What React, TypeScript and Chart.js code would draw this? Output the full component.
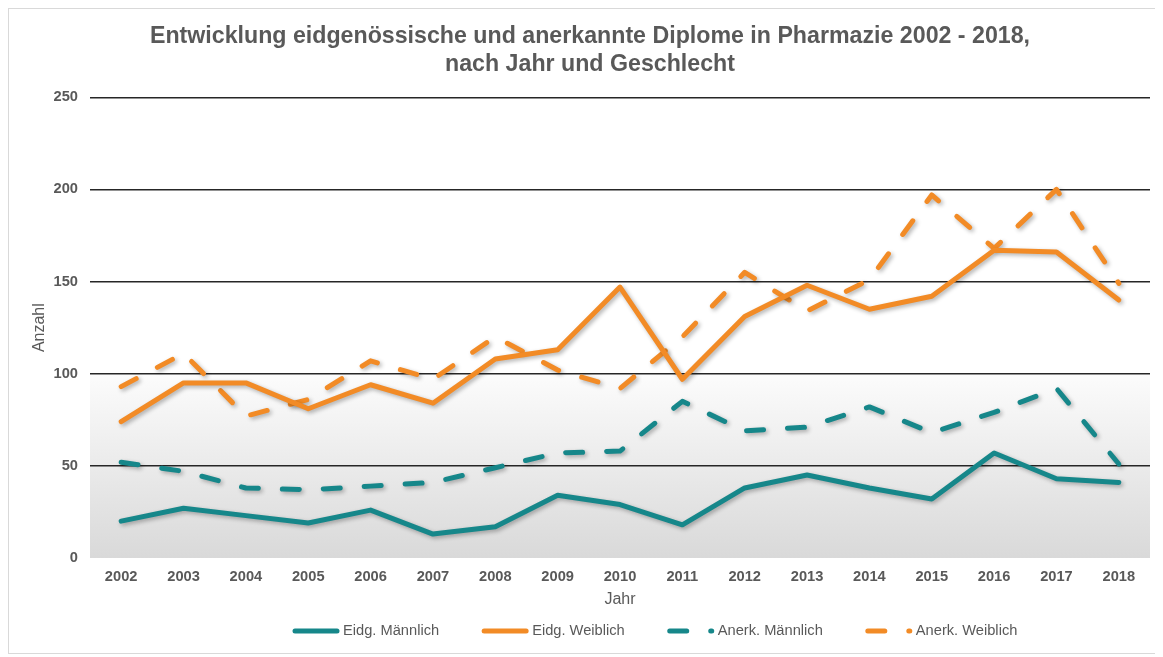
import React, { useEffect, useRef } from 'react';
import { Chart, registerables } from 'chart.js';

Chart.register(...registerables);

const titleLines = [
  'Entwicklung eidgenössische und anerkannte Diplome in Pharmazie 2002 - 2018,',
  'nach Jahr und Geschlecht',
];
const years = ['2002', '2003', '2004', '2005', '2006', '2007', '2008', '2009', '2010', '2011', '2012', '2013', '2014', '2015', '2016', '2017', '2018'];
const eidgMaennlich = [20, 27, 23, 19, 26, 13, 17, 34, 29, 18, 38, 45, 38, 32, 57, 43, 41];
const eidgWeiblich = [74, 95, 95, 81, 94, 84, 108, 113, 147, 97, 131, 148, 135, 142, 167, 166, 140];
const anerkMaennlich = [52, 47, 38, 37, 39, 41, 49, 57, 58, 85, 69, 71, 82, 68, 79, 92, 51];
const anerkWeiblich = [93, 111, 77, 86, 107, 97, 120, 102, 92, 120, 155, 134, 151, 197, 168, 200, 149];
const yTicks = [0, 50, 100, 150, 200, 250];

const TEAL = '#16878a';
const ORANGE = '#f28b26';
const GREY = '#595959';
const FONT = '"Liberation Sans", Arial, sans-serif';
const DASH = [17, 24];

export default function App() {
  const ref = useRef<HTMLCanvasElement>(null);

  useEffect(() => {
    if (!ref.current) return;
    Chart.defaults.font.family = FONT;

    const bgPlugin = {
      id: 'bgGradient',
      beforeDraw(chart: any) {
        const { ctx, chartArea, scales } = chart;
        const yTop = scales.y.getPixelForValue(100);
        const yBot = scales.y.getPixelForValue(0);
        const g = ctx.createLinearGradient(0, yTop, 0, yBot);
        g.addColorStop(0, '#fcfcfc');
        g.addColorStop(1, '#d9d9d9');
        ctx.save();
        ctx.fillStyle = g;
        ctx.fillRect(chartArea.left, yTop, chartArea.right - chartArea.left, yBot - yTop);
        ctx.restore();
      },
    };

    const shadowPlugin = {
      id: 'lineShadow',
      beforeDatasetDraw(chart: any) {
        const c = chart.ctx;
        c.save();
        c.shadowColor = 'rgba(0,0,0,0.3)';
        c.shadowBlur = 4;
        c.shadowOffsetX = 2;
        c.shadowOffsetY = 2;
      },
      afterDatasetDraw(chart: any) {
        chart.ctx.restore();
      },
    };

    const legendPlugin = {
      id: 'customLegend',
      afterDraw(chart: any) {
        const ctx = chart.ctx;
        ctx.save();
        ctx.font = `14.67px ${FONT}`;
        ctx.textBaseline = 'middle';
        let x = 286;
        const y = 622;
        chart.data.datasets.forEach((ds: any) => {
          ctx.strokeStyle = ds.borderColor;
          ctx.lineWidth = ds.borderWidth;
          ctx.lineCap = 'round';
          ctx.setLineDash(ds.borderDash || []);
          ctx.beginPath();
          ctx.moveTo(x, y);
          ctx.lineTo(x + 42, y);
          ctx.stroke();
          ctx.setLineDash([]);
          ctx.fillStyle = GREY;
          ctx.fillText(ds.label, x + 48, y);
          x += 48 + ctx.measureText(ds.label).width + 45;
        });
        ctx.restore();
      },
    };

    const mk = (label: string, data: number[], color: string, dashed: boolean) => ({
      label,
      data,
      borderColor: color,
      backgroundColor: color,
      borderWidth: 5,
      borderDash: dashed ? DASH : [],
      borderCapStyle: 'round' as const,
      borderJoinStyle: 'round' as const,
      pointRadius: 0,
      pointHoverRadius: 0,
      tension: 0,
      fill: false,
    });

    const chart = new Chart(ref.current, {
      type: 'line',
      data: {
        labels: years,
        datasets: [
          mk('Eidg. Männlich', eidgMaennlich, TEAL, false),
          mk('Eidg. Weiblich', eidgWeiblich, ORANGE, false),
          mk('Anerk. Männlich', anerkMaennlich, TEAL, true),
          mk('Anerk. Weiblich', anerkWeiblich, ORANGE, true),
        ],
      },
      options: {
        animation: false,
        responsive: false,
        devicePixelRatio: 1,
        layout: { padding: { left: 21, right: 9, top: 0, bottom: 44 } },
        plugins: {
          legend: { display: false },
          tooltip: { enabled: false },
          title: {
            display: true,
            text: titleLines,
            color: GREY,
            font: { size: 23.2, weight: 'bold', family: FONT, lineHeight: 1.17 },
            padding: { top: 14.5, bottom: 19.5 },
          },
        },
        scales: {
          x: {
            type: 'category',
            offset: true,
            grid: { display: false },
            border: { display: false },
            afterFit(scale: any) {
              scale.height = 51;
            },
            ticks: {
              color: GREY,
              font: { size: 14.67, weight: 'bold', family: FONT },
              padding: 2,
              maxRotation: 0,
              autoSkip: false,
            },
            title: {
              display: true,
              text: 'Jahr',
              color: GREY,
              font: { size: 16, family: FONT },
              padding: { top: 4, bottom: 0 },
            },
          },
          y: {
            min: yTicks[0],
            max: yTicks[yTicks.length - 1],
            afterBuildTicks(scale: any) {
              scale.ticks = yTicks.map((v) => ({ value: v }));
            },
            afterFit(scale: any) {
              scale.width = 60;
            },
            ticks: {
              color: GREY,
              font: { size: 14.67, weight: 'bold', family: FONT },
              padding: 12,
            },
            grid: {
              color: (c: any) => (c.tick && c.tick.value === 0 ? 'rgba(0,0,0,0)' : '#262626'),
              lineWidth: 1.5,
              drawTicks: false,
            },
            border: { display: false },
            title: {
              display: true,
              text: 'Anzahl',
              color: GREY,
              font: { size: 16, family: FONT },
              padding: 0,
            },
          },
        },
      },
      plugins: [bgPlugin, shadowPlugin, legendPlugin],
    });

    return () => chart.destroy();
  }, []);

  return (
    <div style={{ width: 1152, height: 646, border: '1px solid #d9d9d9', boxSizing: 'border-box' }}>
      <canvas ref={ref} width={1150} height={644} style={{ display: 'block' }} />
    </div>
  );
}
